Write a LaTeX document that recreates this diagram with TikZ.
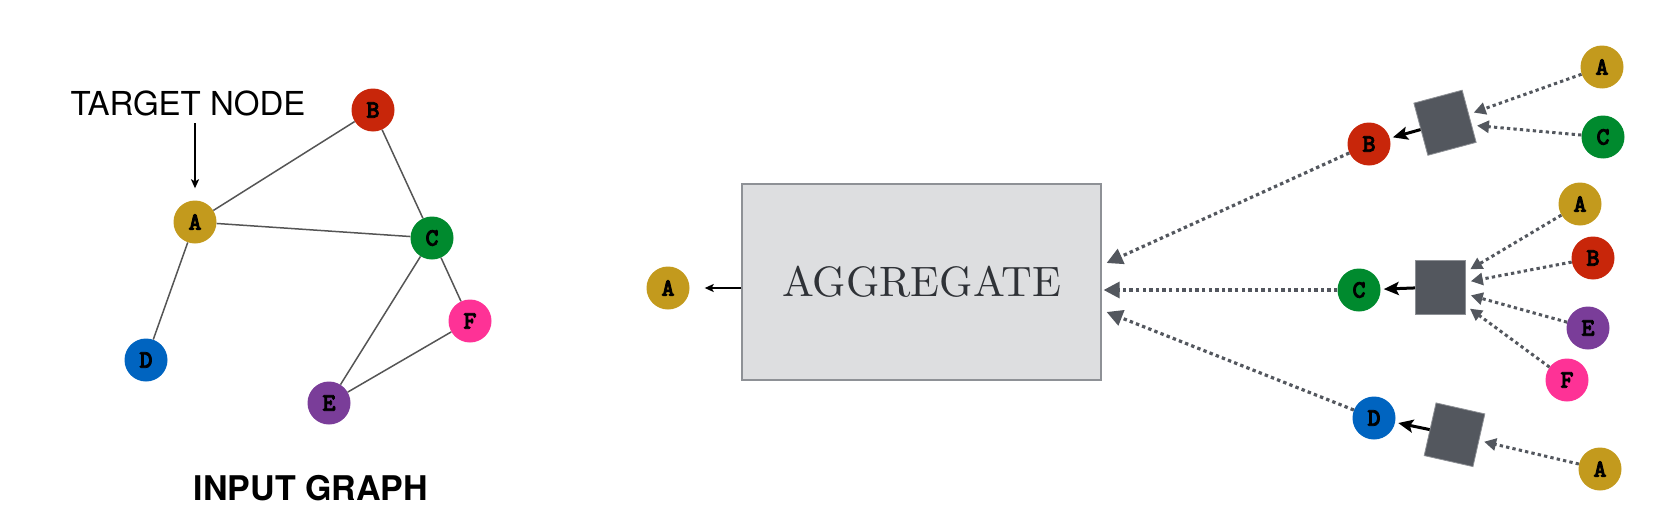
\documentclass[tikz,border=0pt]{standalone}
\usepackage{fontspec}
\newfontfamily\heros{TeX Gyre Heros}
\newfontfamily\letterfont{lmmonolt10-bold.otf}[FakeBold=3]
\newfontfamily\aggfont{lmroman10-regular.otf}
\usetikzlibrary{arrows.meta,calc}
\definecolor{cA}{HTML}{C39A1D}
\definecolor{cB}{HTML}{C8260A}
\definecolor{cC}{HTML}{008A2E}
\definecolor{cD}{HTML}{0064C0}
\definecolor{cE}{HTML}{7A3D99}
\definecolor{cF}{HTML}{FE3296}
\definecolor{edgegray}{HTML}{555555}
\definecolor{sqgray}{HTML}{53575E}
\definecolor{sqborder}{HTML}{8C8F94}
\definecolor{boxfill}{HTML}{DDDEE0}
\definecolor{boxborder}{HTML}{8E9196}
\definecolor{aggtext}{HTML}{2F3237}
\begin{document}
\begin{tikzpicture}[x=1pt,y=-1pt,
  gnode/.style={circle, minimum size=43pt, inner sep=0pt, fill=#1,
    font=\letterfont\fontsize{25}{25}\selectfont},
  gedge/.style={draw=edgegray, line width=1.5pt},
  sqbox/.style={fill=sqgray, draw=sqborder, line width=0.8pt,
    minimum width=50pt, minimum height=54pt, inner sep=0pt},
  bigdot/.style={draw=sqgray, line width=3.2pt, dash pattern=on 3.4pt off 3.2pt,
    -{Triangle[length=16pt,width=16pt,fill=sqgray]}},
  smalldot/.style={draw=sqgray, line width=3pt, dash pattern=on 3.3pt off 3.2pt,
    -{Triangle[length=12pt,width=12pt,fill=sqgray]}, shorten >=5pt},
  blackarrow/.style={draw=black, line width=3pt,
    -{Stealth[length=15pt,width=13pt,inset=3pt]}, shorten >=3pt},
  thinarrow/.style={draw=black, line width=1.5pt,
    -{Stealth[length=9pt,width=8pt,inset=2pt]}}
]
\useasboundingbox (0,0) rectangle (1680,514);

% ---------- input graph ----------
\node[gnode=cA] (gA) at (195,222) {A};
\node[gnode=cB] (gB) at (373,110) {B};
\node[gnode=cC] (gC) at (432,238) {C};
\node[gnode=cD] (gD) at (146,360) {D};
\node[gnode=cE] (gE) at (329,403) {E};
\node[gnode=cF] (gF) at (470,321) {F};
\draw[gedge] (gA) -- (gB);
\draw[gedge] (gA) -- (gC);
\draw[gedge] (gB) -- (gC);
\draw[gedge] (gA) -- (gD);
\draw[gedge] (gC) -- (gE);
\draw[gedge] (gC) -- (gF);
\draw[gedge] (gE) -- (gF);

\node[font=\heros\fontsize{33}{33}\selectfont, inner sep=0pt] (tgt) at (188,103) {TARGET NODE};
\coordinate (tgtfoot) at (195,123);
\draw[thinarrow, shorten >=12pt] (tgtfoot) -- (gA);

\node[font=\heros\bfseries\fontsize{34}{34}\selectfont, inner sep=0pt] (title) at (311,488) {INPUT GRAPH};

% ---------- aggregate ----------
\node[fill=boxfill, draw=boxborder, line width=1.2pt, minimum width=359pt, minimum height=196pt,
  inner sep=0pt, font=\aggfont\fontsize{42.5}{42.5}\selectfont, text=aggtext] (box) at (921.5,282) {AGGREGATE};
\node[gnode=cA] (outA) at (668,288) {A};
\draw[thinarrow, shorten >=15pt] (box.west |- outA) -- (outA);

% ---------- right side ----------
\node[gnode=cB] (rB) at (1369,144) {B};
\node[gnode=cC] (rC) at (1359,290) {C};
\node[gnode=cD] (rD) at (1374,418) {D};

\node[sqbox, rotate=15] (sqB) at (1445,122.75) {};
\node[sqbox] (sqC) at (1440.5,287) {};
\node[sqbox, rotate=-12.7] (sqD) at (1454.5,434.75) {};

\node[gnode=cA] (nA1) at (1602,67) {A};
\node[gnode=cC] (nC1) at (1603,137) {C};
\node[gnode=cA] (nA2) at (1580,204) {A};
\node[gnode=cB] (nB2) at (1593,258) {B};
\node[gnode=cE] (nE2) at (1588,328) {E};
\node[gnode=cF] (nF2) at (1567,380) {F};
\node[gnode=cA] (nA3) at (1600,469) {A};

\draw[smalldot] (nA1) -- (sqB);
\draw[smalldot] (nC1) -- (sqB);
\draw[smalldot] (nA2) -- (sqC);
\draw[smalldot] (nB2) -- (sqC);
\draw[smalldot] (nE2) -- (sqC);
\draw[smalldot] (nF2) -- (sqC);
\draw[smalldot] (nA3) -- (sqD);

\draw[blackarrow] (sqB) -- (rB);
\draw[blackarrow] (sqC) -- (rC);
\draw[blackarrow] (sqD) -- (rD);

\coordinate (inB) at ($(box.east)+(5,-19)$);
\coordinate (inC) at ($(box.east)+(2,8)$);
\coordinate (inD) at ($(box.east)+(5,30)$);
\draw[bigdot] (rB) -- (inB);
\draw[bigdot] (rC) -- (inC);
\draw[bigdot] (rD) -- (inD);
\end{tikzpicture}
\end{document}
